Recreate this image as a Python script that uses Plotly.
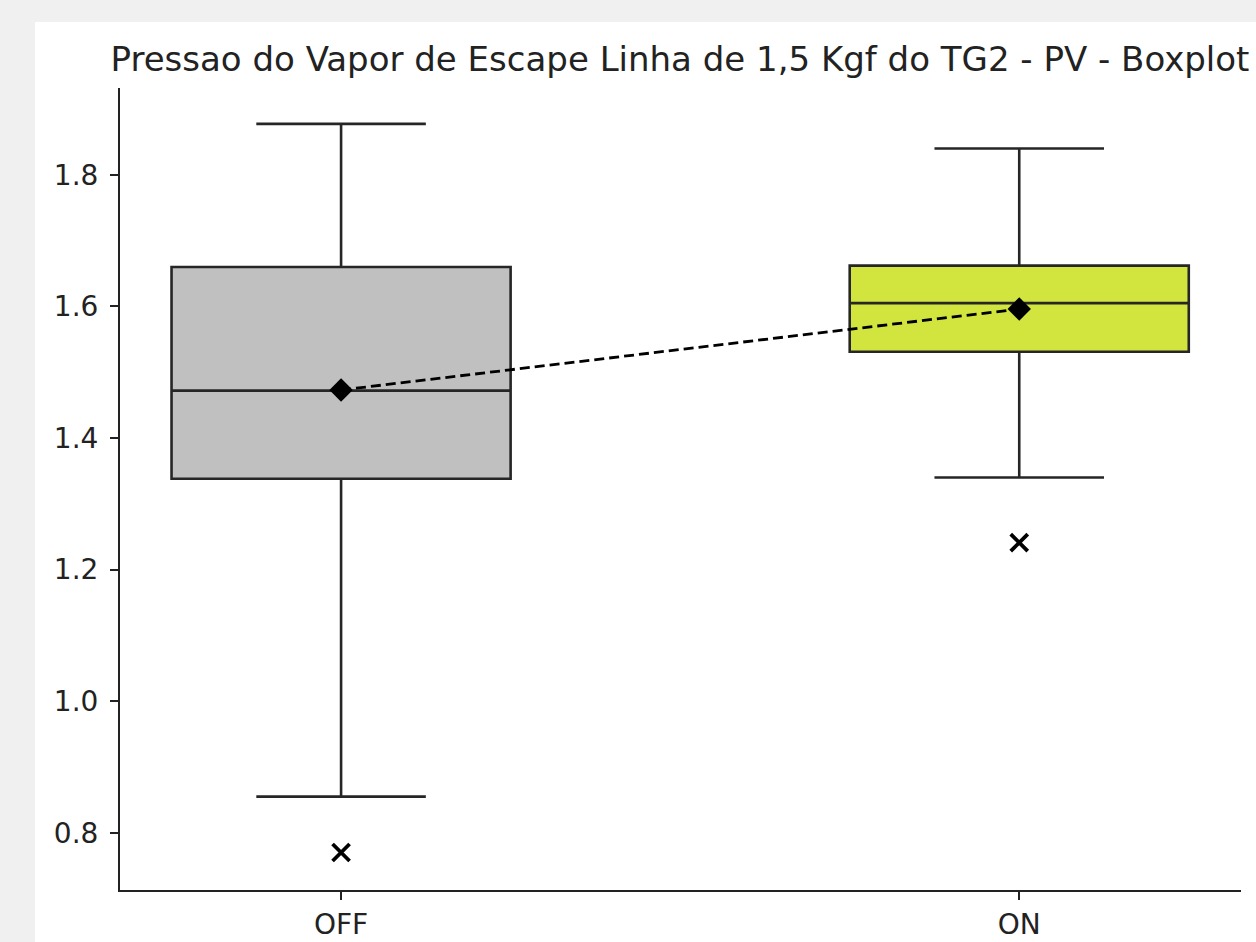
import plotly.graph_objects as go

categories = ["OFF", "ON"]
positions = [0, 1]
q1 = [1.338, 1.531]
median = [1.472, 1.605]
q3 = [1.660, 1.662]
lower_whisker = [0.855, 1.340]
upper_whisker = [1.8775, 1.840]
means = [1.473, 1.596]
outliers = [0.770, 1.241]
box_colors = ["#c0c0c0", "#d2e43e"]

W, H = 1256, 942
L, R, T, B = 120, 15, 88, 52
pw, ph = W - L - R, H - T - B

fig = go.Figure()
for i, cat in enumerate(categories):
    fig.add_trace(go.Box(
        x=[positions[i]], q1=[q1[i]], median=[median[i]], q3=[q3[i]],
        lowerfence=[lower_whisker[i]], upperfence=[upper_whisker[i]],
        width=0.5, whiskerwidth=0.5, boxpoints=False,
        fillcolor=box_colors[i], line=dict(color="#262626", width=2.6),
        name=cat, showlegend=False, hoverinfo="skip",
    ))

fig.add_trace(go.Scatter(
    x=positions, y=outliers, mode="markers",
    marker=dict(symbol="x-thin", size=17, line=dict(color="black", width=3.8)),
    showlegend=False, hoverinfo="skip",
))
fig.add_trace(go.Scatter(
    x=positions, y=means, mode="lines+markers",
    line=dict(color="black", width=2.8, dash="10px,5px"),
    marker=dict(symbol="diamond", size=18, color="black"),
    showlegend=False, hoverinfo="skip",
))

# white figure area over grey window background
fig.add_shape(type="rect", xref="paper", yref="paper",
              x0=(35 - L) / pw, x1=(W - L + 5) / pw,
              y0=-(B + 5) / ph, y1=(H - B - 22) / ph,
              fillcolor="white", line=dict(width=0), layer="below")

fig.update_layout(
    width=W, height=H, autosize=False,
    margin=dict(l=L, r=R, t=T, b=B, pad=0, autoexpand=False),
    paper_bgcolor="#f0f0f0", plot_bgcolor="white",
    font=dict(family="DejaVu Sans", color="#222222"),
    title=dict(text="Pressao do Vapor de Escape Linha de 1,5 Kgf do TG2 - PV - Boxplot",
               x=(680) / W, xanchor="center", y=1 - 71 / H, yanchor="bottom",
               font=dict(size=34, color="#222222")),
)
fig.update_xaxes(range=[-0.326, 1.327], tickvals=positions, ticktext=categories,
                 showline=True, linecolor="#222222", linewidth=2, showgrid=False,
                 zeroline=False, ticks="outside", ticklen=8, tickwidth=2, tickcolor="#222222",
                 tickfont=dict(size=28), automargin=False)
fig.update_yaxes(range=[0.713, 1.932], tickvals=[0.8, 1.0, 1.2, 1.4, 1.6, 1.8],
                 ticktext=["0.8", "1.0", "1.2", "1.4", "1.6", "1.8"],
                 showline=True, linecolor="#222222", linewidth=2, showgrid=False,
                 zeroline=False, ticks="outside", ticklen=8, tickwidth=2, tickcolor="#222222",
                 tickfont=dict(size=28), ticklabelstandoff=6, automargin=False)

fig.write_html("out.html", config={"displayModeBar": False, "responsive": False}, post_script=(
    "var css='margin:0;padding:0;overflow:hidden;width:1256px;height:942px;background:#f0f0f0;';"
    "document.documentElement.style.cssText=css;"
    "document.body.style.cssText=css;"
))
